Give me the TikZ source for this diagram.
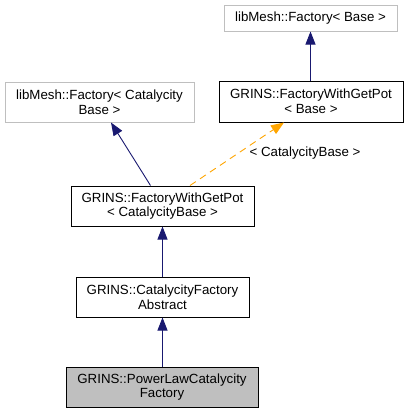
\documentclass[tikz,border=0pt]{standalone}
\usepackage{fontspec}
\setmainfont{Liberation Sans}
\usetikzlibrary{arrows.meta,calc}
\begin{document}
\begin{tikzpicture}[x=1pt,y=-1pt,
  every node/.style={inner sep=0pt, font=\fontsize{13.3}{14.7}\selectfont, align=center},
  cls/.style={draw=black, line width=1pt, rectangle},
  ext/.style={draw=gray!50, line width=1pt, rectangle},
  cur/.style={draw=black, fill=gray!50, line width=1pt, rectangle},
  inh/.style={draw={rgb,255:red,25;green,25;blue,112}, line width=0.9pt,
    -{Triangle[length=13pt,width=10pt,fill={rgb,255:red,25;green,25;blue,112}]}},
  tmpl/.style={draw={rgb,255:red,255;green,165;blue,0}, line width=0.9pt, dash pattern=on 7pt off 5pt,
    -{Triangle[length=13pt,width=10pt,fill={rgb,255:red,255;green,165;blue,0}]}}
]
\useasboundingbox (0,0) rectangle (408,413);
\node[ext, minimum width=173pt, minimum height=26pt] (b1) at (310.5,18) {libMesh::Factory< Base >};
\node[cls, minimum width=184pt, minimum height=41pt] (b2) at (311,101.5) {GRINS::FactoryWithGetPot\\< Base >};
\node[ext, minimum width=189pt, minimum height=40pt] (b3) at (99.5,102) {libMesh::Factory< Catalycity\\Base >};
\node[cls, minimum width=183pt, minimum height=40pt] (b4) at (162.5,206) {GRINS::FactoryWithGetPot\\< CatalycityBase >};
\node[cls, minimum width=173pt, minimum height=40pt] (b5) at (162.5,297) {GRINS::CatalycityFactory\\Abstract};
\node[cur, minimum width=192pt, minimum height=40pt] (b6) at (162,387) {GRINS::PowerLawCatalycity\\Factory};
\coordinate (p4a) at ($(b4.north)+(-12,0)$);
\coordinate (p3a) at ($(b3.south)+(11.5,0)$);
\coordinate (p4b) at ($(b4.north)+(27.5,0)$);
\coordinate (p2b) at ($(b2.south)+(-27,0)$);
\draw[inh] (b2.north -| b1.south) -- (b1.south);
\draw[inh] (p4a) -- (p3a);
\draw[tmpl] (p4b) -- (p2b);
\node (lbl) at (305,153) {< CatalycityBase >};
\draw[inh] (b5.north -| b4.south) -- (b4.south);
\draw[inh] (b6.north -| b5.south) -- (b5.south);
\end{tikzpicture}
\end{document}
